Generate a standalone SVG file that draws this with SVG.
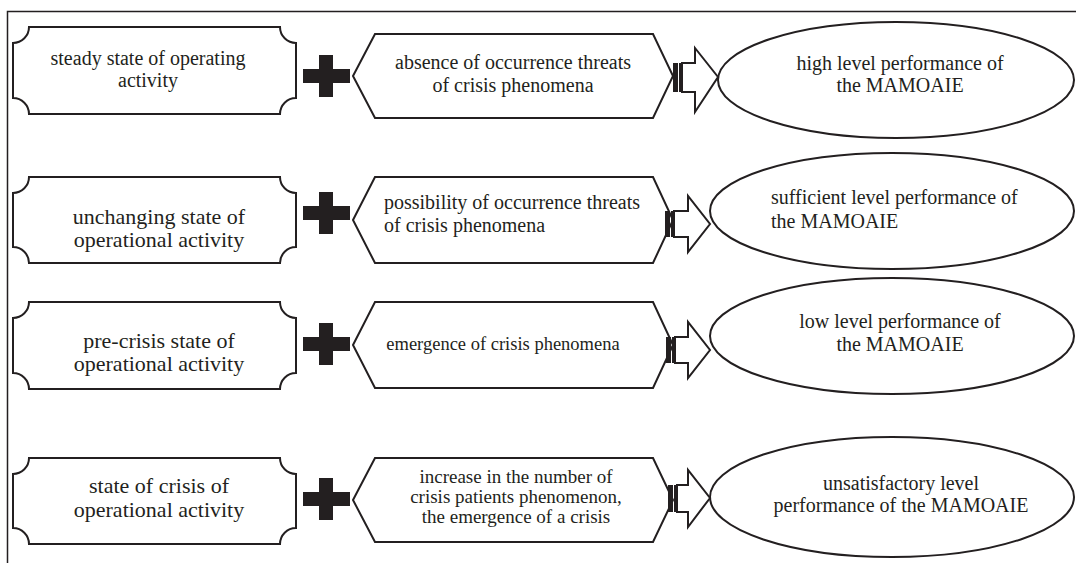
<svg xmlns="http://www.w3.org/2000/svg" width="1076" height="563" viewBox="0 0 1076 563">
<style>
.frame{fill:none;stroke:#231f20;stroke-width:1.5}
.shape{fill:#fff;stroke:#231f20;stroke-width:2}
.plus{fill:#231f20}
.bar{fill:#231f20}
.arrow{fill:#fff;stroke:#231f20;stroke-width:2;stroke-linejoin:miter}
.t{font-family:'Liberation Serif','DejaVu Serif',serif;fill:#231f20;white-space:pre}
.c{text-anchor:middle}
.f20{font-size:20px}
.f22{font-size:22px}
.f19{font-size:19px}
.f18{font-size:18.5px}
</style>
<defs>
<path id="plus" d="M16,0 H30 V14 H47 V28 H30 V42 H16 V28 H0 V14 H16 Z"/>
</defs>
<rect width="1076" height="563" fill="#fff"/>
<path class="frame" d="M7.5,563 V11.5 H1076"/>

<g class="t" font-family="Liberation Serif, DejaVu Serif, serif" xml:space="preserve">
<g id="row1">
<g id="plaque1"><path class="shape" d="M29,27 H280 A16,16 0 0 0 296,43 V98 A16,16 0 0 0 280,114 H29 A16,16 0 0 0 13,98 V43 A16,16 0 0 0 29,27 Z"/>
<text class="c f20" x="148" y="65">steady state of  operating</text>
<text class="c f20" x="148" y="87">activity</text></g>
<use id="plus1" class="plus" href="#plus" x="303" y="55"/>
<g id="hex1"><path class="shape" d="M353,76 L375,34 H653 L673,76 L653,118 H375 Z"/>
<text class="c f20" x="513" y="69">absence of occurrence threats</text>
<text class="c f20" x="513" y="92">of crisis phenomena</text></g>
<g id="ellipse1"><ellipse class="shape" cx="896" cy="80" rx="178" ry="58"/>
<text class="c f20" x="900" y="70">high level performance of</text>
<text class="c f20" x="900" y="92">the MAMOAIE</text></g>
</g>

<g id="row2">
<g id="plaque2"><path class="shape" d="M29,177 H280 A16,16 0 0 0 296,193 V247 A16,16 0 0 0 280,263 H29 A16,16 0 0 0 13,247 V193 A16,16 0 0 0 29,177 Z"/>
<text class="c f22" x="159" y="224">unchanging state of</text>
<text class="c f22" x="159" y="247">operational activity</text></g>
<use id="plus2" class="plus" href="#plus" x="303" y="192"/>
<g id="hex2"><path class="shape" d="M353,220 L375,177 H653 L673,220 L653,263 H375 Z"/>
<text class="f20" x="384" y="209">possibility of occurrence threats</text>
<text class="f20" x="384" y="232">of crisis phenomena</text></g>
<g id="ellipse2"><ellipse class="shape" cx="892" cy="211" rx="182" ry="58"/>
<text class="f20" x="771" y="204">sufficient level performance of</text>
<text class="f20" x="771" y="228">the MAMOAIE</text></g>
</g>

<g id="row3">
<g id="plaque3"><path class="shape" d="M29,302 H280 A16,16 0 0 0 296,318 V373 A16,16 0 0 0 280,389 H29 A16,16 0 0 0 13,373 V318 A16,16 0 0 0 29,302 Z"/>
<text class="c f22" x="159" y="348">pre-crisis state of</text>
<text class="c f22" x="159" y="371">operational activity</text></g>
<use id="plus3" class="plus" href="#plus" x="303" y="323"/>
<g id="hex3"><path class="shape" d="M353,345 L375,302 H653 L673,345 L653,388 H375 Z"/>
<text class="c f18" x="503" y="350">emergence of crisis phenomena</text></g>
<g id="ellipse3"><ellipse class="shape" cx="892" cy="336" rx="182" ry="58"/>
<text class="c f20" x="900" y="328">low level performance of</text>
<text class="c f20" x="900" y="351">the MAMOAIE</text></g>
</g>

<g id="row4">
<g id="plaque4"><path class="shape" d="M29,458 H280 A16,16 0 0 0 296,474 V528 A16,16 0 0 0 280,544 H29 A16,16 0 0 0 13,528 V474 A16,16 0 0 0 29,458 Z"/>
<text class="c f22" x="159" y="493">state of crisis of</text>
<text class="c f22" x="159" y="517">operational activity</text></g>
<use id="plus4" class="plus" href="#plus" x="303" y="478"/>
<g id="hex4"><path class="shape" d="M353,500 L375,458 H653 L673,500 L653,542 H375 Z"/>
<text class="c f19" x="516" y="483">increase in the number of</text>
<text class="c f19" x="516" y="503">crisis patients phenomenon,</text>
<text class="c f19" x="516" y="523">the emergence of a crisis</text></g>
<g id="ellipse4"><ellipse class="shape" cx="892" cy="497" rx="182" ry="60"/>
<text class="c f20" x="901" y="490">unsatisfactory level</text>
<text class="c f20" x="901" y="512">performance of  the MAMOAIE</text></g>
</g>
</g>

<g id="connectors">
<g id="arrow1"><rect class="bar" x="673" y="63" width="5" height="29"/><rect class="bar" x="679" y="63" width="2" height="29"/>
<path class="arrow" d="M682,63 H695 V48 L718,77 L695,112 V92 H682 Z"/></g>
<g id="arrow2"><rect class="bar" x="665" y="211" width="5" height="26"/><rect class="bar" x="671" y="211" width="2" height="26"/>
<path class="arrow" d="M674,211 H688 V196 L710,224 L688,252 V237 H674 Z"/></g>
<g id="arrow3"><rect class="bar" x="666" y="337" width="5" height="26"/><rect class="bar" x="672" y="337" width="2" height="26"/>
<path class="arrow" d="M675,337 H688 V322 L710,350 L688,378 V363 H675 Z"/></g>
<g id="arrow4"><rect class="bar" x="668" y="485" width="5" height="27"/><rect class="bar" x="674" y="485" width="2" height="27"/>
<path class="arrow" d="M677,485 H688 V470 L710,498 L688,527 V512 H677 Z"/></g>
</g>
</svg>
